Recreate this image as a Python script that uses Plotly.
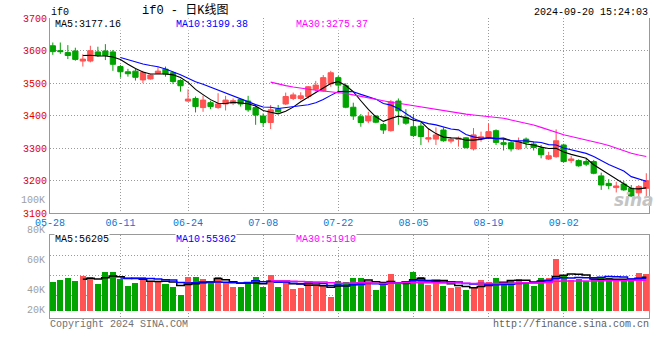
import plotly.graph_objects as go
import pandas as pd

# ---------------- data ----------------
dates = ["05-28", "05-29", "05-30", "05-31",
         "06-03", "06-04", "06-05", "06-06", "06-07",
         "06-11", "06-12", "06-13", "06-14",
         "06-17", "06-18", "06-19", "06-20", "06-21",
         "06-24", "06-25", "06-26", "06-27", "06-28",
         "07-01", "07-02", "07-03", "07-04", "07-05",
         "07-08", "07-09", "07-10", "07-11", "07-12",
         "07-15", "07-16", "07-17", "07-18", "07-19",
         "07-22", "07-23", "07-24", "07-25", "07-26",
         "07-29", "07-30", "07-31", "08-01", "08-02",
         "08-05", "08-06", "08-07", "08-08", "08-09",
         "08-12", "08-13", "08-14", "08-15", "08-16",
         "08-19", "08-20", "08-21", "08-22", "08-23",
         "08-26", "08-27", "08-28", "08-29", "08-30",
         "09-02", "09-03", "09-04", "09-05", "09-06",
         "09-09", "09-10", "09-11", "09-12", "09-13",
         "09-18", "09-19"]

opens = [3615, 3600, 3594, 3599, 3568, 3568, 3596, 3599, 3596, 3551,
         3535, 3537, 3510, 3513, 3530, 3543, 3532, 3508, 3445, 3453,
         3425, 3440, 3425, 3436, 3438, 3450, 3445, 3425, 3399, 3379,
         3421, 3436, 3453, 3453, 3459, 3481, 3476, 3498, 3517, 3492,
         3426, 3397, 3384, 3399, 3373, 3354, 3445, 3395, 3366, 3368,
         3328, 3328, 3356, 3322, 3327, 3332, 3298, 3330, 3333, 3354,
         3317, 3317, 3298, 3328, 3313, 3300, 3267, 3274, 3310, 3262,
         3262, 3259, 3259, 3215, 3192, 3179, 3190, 3177, 3163, 3177]
highs = [3625, 3625, 3617, 3609, 3589, 3615, 3612, 3620, 3602, 3556,
         3544, 3544, 3538, 3527, 3549, 3551, 3535, 3512, 3481, 3459,
         3462, 3446, 3469, 3461, 3453, 3453, 3461, 3436, 3407, 3433,
         3433, 3471, 3471, 3472, 3491, 3507, 3525, 3538, 3522, 3500,
         3440, 3405, 3412, 3402, 3378, 3448, 3453, 3420, 3405, 3380,
         3360, 3364, 3364, 3334, 3336, 3334, 3362, 3351, 3376, 3358,
         3330, 3325, 3333, 3333, 3320, 3310, 3289, 3358, 3314, 3277,
         3266, 3269, 3264, 3225, 3205, 3197, 3199, 3187, 3187, 3223]
lows = [3587, 3590, 3574, 3569, 3551, 3564, 3581, 3571, 3538, 3517,
        3520, 3508, 3500, 3511, 3529, 3520, 3497, 3474, 3443, 3410,
        3412, 3420, 3421, 3416, 3433, 3428, 3412, 3372, 3366, 3359,
        3409, 3433, 3448, 3448, 3453, 3474, 3474, 3489, 3474, 3423,
        3387, 3366, 3377, 3377, 3344, 3351, 3372, 3372, 3334, 3310,
        3318, 3310, 3320, 3315, 3305, 3299, 3293, 3320, 3328, 3310,
        3293, 3290, 3295, 3300, 3293, 3269, 3264, 3271, 3256, 3254,
        3243, 3245, 3220, 3172, 3174, 3164, 3169, 3151, 3146, 3148]
closes = [3597, 3597, 3585, 3573, 3574, 3600, 3585, 3585, 3558, 3535,
          3529, 3518, 3533, 3525, 3537, 3528, 3505, 3492, 3451, 3428,
          3448, 3428, 3436, 3448, 3446, 3436, 3418, 3402, 3379, 3418,
          3412, 3459, 3464, 3461, 3489, 3494, 3517, 3532, 3494, 3426,
          3399, 3379, 3399, 3380, 3356, 3443, 3415, 3377, 3339, 3336,
          3332, 3341, 3323, 3327, 3331, 3302, 3341, 3335, 3351, 3318,
          3312, 3298, 3320, 3317, 3302, 3280, 3277, 3323, 3259, 3267,
          3246, 3251, 3223, 3187, 3185, 3184, 3172, 3153, 3182, 3200]
volumes = [53300, 55000, 57300, 54300, 59300, 58300, 51000, 63300, 63300, 55700,
           49000, 52300, 58300, 53300, 54300, 51000, 48300, 40000, 58300, 58300,
           56300, 51700, 58300, 51700, 48300, 48300, 53300, 58300, 48300, 60000,
           48300, 54000, 46000, 47300, 53300, 50000, 50000, 38300, 54000, 53000,
           57000, 57000, 54000, 45000, 50000, 61000, 51000, 51000, 63000, 58000,
           50000, 52300, 49000, 47300, 48300, 45000, 46700, 55000, 53000, 57000,
           52300, 55000, 56000, 53300, 49000, 57300, 57300, 76000, 59300, 55000,
           55700, 54300, 55700, 57300, 57300, 54000, 55000, 55700, 62300, 61300]

date_ticks = ["05-28", "06-11", "06-24", "07-08", "07-22", "08-05", "08-19", "09-02"]
price_ticks = [3100, 3200, 3300, 3400, 3500, 3600, 3700]
vol_grid = [40000, 60000, 80000]
vol_labels = ["100K", "80K", "60K", "40K", "20K"]

symbol = "if0"
title_text = "if0 - 日K线图"
timestamp = "2024-09-20 15:24:03"
price_ma_text = ["MA5:3177.16", "MA10:3199.38", "MA30:3275.37"]
vol_ma_text = ["MA5:56205", "MA10:55362", "MA30:51910"]
copyright_text = "Copyright 2024 SINA.COM"
url_text = "http://finance.sina.com.cn"

# ---------------- derived ----------------
W, H = 660, 360
def fx(px):
    return px / W
def fy(py):
    return 1 - py / H

x = list(range(len(dates)))
cl = pd.Series(closes)
vo = pd.Series(volumes)
ma_cols = ["#000000", "#0000ff", "#ff00ff"]
wins = [5, 10, 30]

RED = "#ff5252"
GREEN = "#00a300"
GRID = "#9a9a9a"
FRAME = "#999999"
MONO = "Liberation Mono, DejaVu Sans Mono, monospace"

x0 = -0.373
x1 = 79.36
tickpos = [x0] + [dates.index(t) for t in date_ticks[1:]]

fig = go.Figure()

fig.add_trace(go.Candlestick(
    x=x, open=opens, high=highs, low=lows, close=closes,
    increasing=dict(line=dict(color=RED, width=1), fillcolor=RED),
    decreasing=dict(line=dict(color=GREEN, width=1), fillcolor=GREEN),
    whiskerwidth=0, xaxis="x", yaxis="y", showlegend=False, hoverinfo="skip"))

for w, c in zip(wins, ma_cols):
    fig.add_trace(go.Scatter(x=x, y=cl.rolling(w).mean(), mode="lines",
                             line=dict(color=c, width=1.1), xaxis="x", yaxis="y",
                             showlegend=False, hoverinfo="skip"))

BASE = 24300
bar_cols = [RED if c > o else GREEN for o, c in zip(opens, closes)]
fig.add_trace(go.Bar(x=x, y=[v - BASE for v in volumes], base=BASE, width=0.8,
                     marker=dict(color=bar_cols, line=dict(width=0)),
                     xaxis="x2", yaxis="y2", showlegend=False, hoverinfo="skip"))

for w, c in zip(wins, ma_cols):
    fig.add_trace(go.Scatter(x=x, y=vo.rolling(w).mean(), mode="lines",
                             line=dict(color=c, width=1.5, shape="hvh"),
                             xaxis="x2", yaxis="y2",
                             showlegend=False, hoverinfo="skip"))

grid_common = dict(showgrid=True, gridcolor=GRID, griddash="1px,2px", gridwidth=1,
                   zeroline=False, ticks="", automargin=False)

fig.update_layout(
    width=W, height=H,
    margin=dict(l=0, r=0, t=0, b=0, pad=0, autoexpand=False),
    paper_bgcolor="white", plot_bgcolor="white",
    boxgap=0.3, boxgroupgap=0,
    bargap=0,
    hovermode=False,
    xaxis=dict(domain=[fx(50), fx(649)], range=[x0, x1], anchor="y",
               tickmode="array", tickvals=tickpos, ticktext=date_ticks,
               tickfont=dict(family=MONO, size=10, color="#0a78d2"),
               showline=True, linecolor=FRAME, linewidth=1,
               rangeslider=dict(visible=False), **grid_common),
    yaxis=dict(domain=[fy(213.3), fy(18.1)], range=[3100, 3700], anchor="x",
               tickmode="array", tickvals=price_ticks,
               tickfont=dict(family=MONO, size=10, color="#e00000"),
               showline=True, mirror=True, linecolor=FRAME, linewidth=1,
               **grid_common),
    xaxis2=dict(domain=[fx(50), fx(649)], range=[x0, x1], anchor="y2",
                tickmode="array", tickvals=tickpos, showticklabels=False,
                showline=True, mirror=True, linecolor=FRAME, linewidth=1,
                **grid_common),
    yaxis2=dict(domain=[fy(317.7), fy(234.7)], range=[17300, 100300], anchor="x2",
                tickmode="array", tickvals=vol_grid, showticklabels=False,
                showline=True, mirror=True, linecolor=FRAME, linewidth=1,
                **grid_common),
)

ann = []
def add_text(text, px, py, color="#000000", anchor="left", size=10, family=MONO,
             bg=None, **kw):
    d = dict(text=text, x=fx(px), y=fy(py), xref="paper", yref="paper",
             xanchor=anchor, yanchor="middle", showarrow=False,
             font=dict(family=family, size=size, color=color), borderpad=0)
    if bg:
        d["bgcolor"] = bg
    d.update(kw)
    ann.append(d)

add_text(symbol, 50, 12.5)
add_text(title_text, 185, 10, anchor="center", size=12,
         family="Liberation Mono, Noto Sans CJK SC, monospace")
add_text(timestamp, 649, 12.5, anchor="right")

ma_x = [54, 175, 295]
for t, c, px in zip(price_ma_text, ma_cols, ma_x):
    add_text(t, px, 24.5, color=c, bg="white")
for t, c, px in zip(vol_ma_text, ma_cols, ma_x):
    add_text(t, px, 239, color=c, bg="white")

vol_label_y = [200.7, 230.5, 260.7, 290, 310]
for t, py in zip(vol_labels, vol_label_y):
    add_text(t, 46, py, color="#a0a0a0", anchor="right")

add_text(copyright_text, 49, 324.5, color="#707070")
add_text(url_text, 650, 324.5, color="#606060", anchor="right")

add_text("sina", 634, 200, color="#c4c4c4", anchor="center", size=17,
         family="DejaVu Sans")
ann[-1]["font"]["style"] = "italic"
ann[-1]["font"]["weight"] = "bold"

fig.update_layout(annotations=ann)

fig.write_html("out.html",
               config={"displayModeBar": False, "staticPlot": True},
               post_script="document.body.style.margin='0';document.body.style.overflow='hidden';")
